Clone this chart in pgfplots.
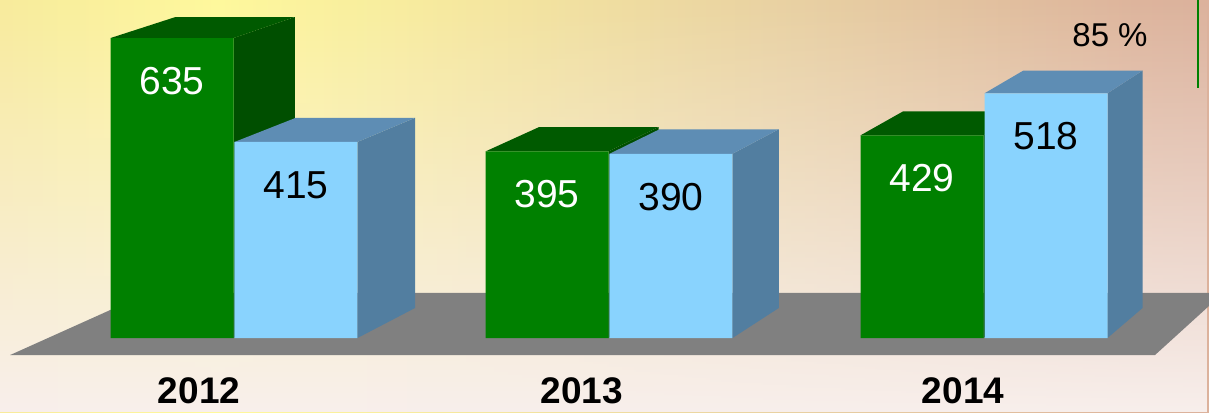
\documentclass[border=0pt]{standalone}
\usepackage{fontspec}
\setmainfont{Liberation Sans}
\usepackage{pgfplots}
\pgfplotsset{compat=1.18}
\usepackage{pgfplotstable}
\usetikzlibrary{fadings}

\definecolor{greenF}{HTML}{008000}
\definecolor{greenS}{HTML}{004F00}
\definecolor{greenT}{HTML}{005A00}
\definecolor{blueF}{HTML}{89D3FE}
\definecolor{blueS}{HTML}{527EA0}
\definecolor{blueT}{HTML}{5E8DB4}
\definecolor{floorC}{HTML}{808080}
\definecolor{bgL}{HTML}{E3C39C}
\definecolor{bgY}{HTML}{FFF99C}
\definecolor{bgN}{HTML}{E8D0A2}
\definecolor{bgM}{HTML}{DDB49C}
\definecolor{bgR}{HTML}{D09E9F}
\definecolor{bgB}{HTML}{F8EFEC}

\pgfdeclarehorizontalshading{bgh}{100bp}{color(0bp)=(bgL); color(34bp)=(bgY); color(58bp)=(bgN); color(72bp)=(bgM); color(100bp)=(bgR)}

\pgfplotstableread{
x green blue
0 635 415
1 395 390
2 429 518
}\bardata

\newcommand{\Vx}{5.443}
\newcommand{\Vy}{2117}
\newcommand{\kk}{0.03}
% side and top faces of one bar, from the table values
\newcommand{\boxfaces}[4]{%
  \pgfplotstablegetelem{#1}{x}\of\bardata \let\cx\pgfplotsretval
  \pgfplotstablegetelem{#1}{#2}\of\bardata \let\val\pgfplotsretval
  \pgfmathsetmacro\xl{\cx+(#3)-0.164}%
  \pgfmathsetmacro\xr{\cx+(#3)+0.164}%
  \pgfmathsetmacro\bxl{\xl+\kk*(\Vx-\xl)}%
  \pgfmathsetmacro\bxr{\xr+\kk*(\Vx-\xr)}%
  \pgfmathsetmacro\byt{\val+\kk*(\Vy-\val)}%
  \pgfmathsetmacro\byb{\kk*\Vy}%
  \edef\doplot{%
    \noexpand\addplot[fill=#4S, draw=none] coordinates {(\xr,0) (\xr,\val) (\bxr,\byt) (\bxr,\byb)} --cycle;
    \noexpand\addplot[fill=#4T, draw=none] coordinates {(\xl,\val) (\xr,\val) (\bxr,\byt) (\bxl,\byt)} --cycle;
  }\doplot
}

\begin{document}
\begin{tikzpicture}
\path[use as bounding box] (0,0) rectangle (604.5pt,206pt);
\shade[shading=bgh] (0,0) rectangle (604.5pt,206pt);
\fill[bgB, path fading=north] (0,0) rectangle (604.5pt,206pt);
\begin{axis}[
  at={(0,0)}, anchor=south west,
  scale only axis, width=604.5pt, height=206pt,
  xmin=-0.624, xmax=2.6, ymin=-156.6, ymax=715.5,
  axis line style={draw=none}, major tick length=0pt,
  ytick=\empty,
  xtick={-0.093,0.928,1.944},
  xticklabels={2012,2013,2014},
  xticklabel style={font=\bfseries\fontsize{18.5}{20}\selectfont, inner sep=0pt, anchor=center, yshift=10.5pt},
  /pgf/number format/assume math mode=true,
  clip=true,
]
% floor
\addplot[fill=floorC, draw=none] coordinates {(-0.597,-36) (2.456,-36) (2.638,95.3) (-0.229,95.3)} --cycle;

\boxfaces{0}{green}{-0.1653}{green}
\boxfaces{1}{green}{-0.1653}{green}
\boxfaces{2}{green}{-0.1653}{green}
\addplot[ybar, bar width=0.328, bar shift=-0.1653, fill=greenF, draw=none,
  nodes near coords, nodes near coords style={text=white, font=\fontsize{19.5}{20}\selectfont, anchor=center, xshift=-31pt, yshift=-21.5pt}]
  table[x=x, y=green] {\bardata};

\boxfaces{0}{blue}{0.1653}{blue}
\boxfaces{1}{blue}{0.1653}{blue}
\boxfaces{2}{blue}{0.1653}{blue}
\addplot[ybar, bar width=0.328, bar shift=0.1653, fill=blueF, draw=none,
  nodes near coords, nodes near coords style={text=black, font=\fontsize{19.5}{20}\selectfont, anchor=center, xshift=31pt, yshift=-21.5pt}]
  table[x=x, y=blue] {\bardata};

\node[font=\fontsize{16.5}{18}\selectfont, anchor=center] at (axis cs:2.336,641) {85 \%};
\addplot[color=greenF, line width=1pt] coordinates {(2.571,720) (2.571,529)};
\end{axis}
\end{tikzpicture}
\end{document}
